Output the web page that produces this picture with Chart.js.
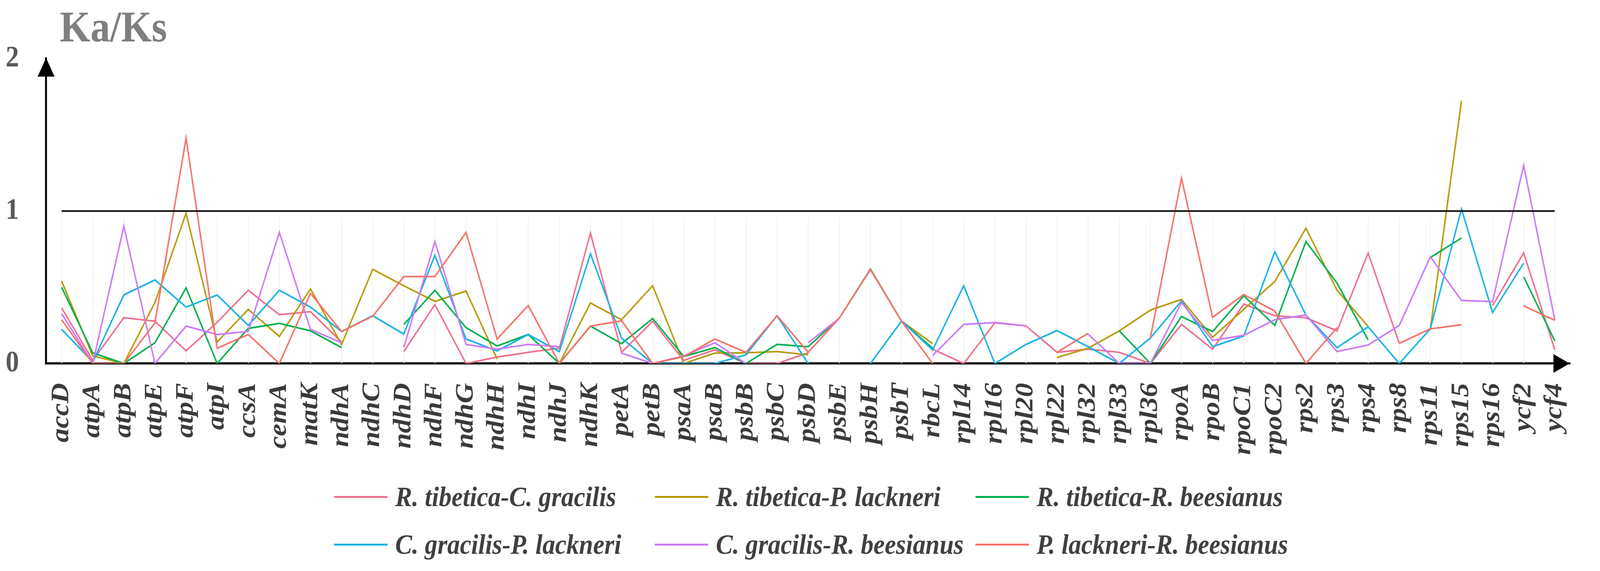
<!DOCTYPE html>
<html>
<head>
<meta charset="utf-8">
<title>Ka/Ks</title>
<script src="https://cdn.jsdelivr.net/npm/chart.js@4.4.1/dist/chart.umd.min.js"></script>
<style>
  html, body { margin: 0; padding: 0; background: #fff; overflow: hidden; }
  #wrap { position: relative; width: 4550px; height: 1461px; transform-origin: 0 0; }
  #kaks { display: block; }
  #title {
    position: absolute; left: 170px; top: 4px; line-height: 1;
    font: bold 112px "Liberation Serif", "Times New Roman", serif; color: #7f7f7f;
  }
  .leg-item { position: absolute; display: flex; align-items: center; height: 90px; }
  .leg-line { width: 152px; height: 5px; margin-right: 22px; }
  .leg-text {
    font: italic bold 72px "Liberation Serif", "Times New Roman", serif;
    color: #404040; white-space: nowrap;
  }
</style>
</head>
<body>
<div id="wrap">
  <canvas id="kaks" width="4550" height="1461"></canvas>
  <div id="title">Ka/Ks</div>
  <div id="legend"></div>
</div>
<script>
// genes on the x axis
const genes = ['accD','atpA','atpB','atpE','atpF','atpI','ccsA','cemA','matK','ndhA',
  'ndhC','ndhD','ndhF','ndhG','ndhH','ndhI','ndhJ','ndhK','petA','petB',
  'psaA','psaB','psbB','psbC','psbD','psbE','psbH','psbT','rbcL','rpl14',
  'rpl16','rpl20','rpl22','rpl32','rpl33','rpl36','rpoA','rpoB','rpoC1','rpoC2',
  'rps2','rps3','rps4','rps8','rps11','rps15','rps16','ycf2','ycf4'];

const pairNames = [
  'R. tibetica-C. gracilis', 'R. tibetica-P. lackneri', 'R. tibetica-R. beesianus',
  'C. gracilis-P. lackneri', 'C. gracilis-R. beesianus', 'P. lackneri-R. beesianus'
];
const pairColors = ['#F0708E', '#B89B0A', '#00B050', '#1AB3E6', '#CB7BF7', '#F4736B'];

// Ka/Ks values per pair (null = no value)
const rtCg = [0.365,0.02,0.30,0.277,0.083,0.27,0.48,0.32,0.34,0.14,
  null,0.078,0.386,0,0.042,0.073,0.10,0.856,0.073,0.277,
  0.02,0.089,0,0,0.07,null,null,null,0.094,0,
  0.266,0.247,0.073,0.094,0.073,0,0.256,0.094,0.39,0.313,
  0.30,0.214,0.725,0.132,null,null,0.38,0.725,0.09];
const rtPl = [0.54,0.05,0,0.40,0.986,0.14,0.355,0.177,0.49,0.125,
  0.618,0.51,0.407,0.475,0.03,null,0,0.397,0.287,0.51,
  0,0.068,0.07,0.078,0.057,null,null,0.278,0.13,null,
  null,null,0.039,0.10,0.214,0.35,0.42,0.172,0.355,0.538,
  0.887,0.48,0.243,null,0.227,1.722,null,null,null];
const rtRb = [0.50,0.07,0,0.136,0.496,0,0.23,0.263,0.214,0.104,
  null,0.256,0.48,0.235,0.115,0.19,0,0.245,0.13,0.295,
  0.046,0.104,0,0.125,0.11,0.297,0.62,0.278,0.10,null,
  null,null,null,null,0.214,0,0.308,0.209,0.444,0.25,
  0.80,0.527,0.155,null,0.695,0.823,null,0.568,0.148];
const cgPl = [0.224,0.01,0.45,0.548,0.37,0.449,0.25,0.48,0.37,0.21,
  0.313,0.193,0.71,0.16,0.083,0.19,0.078,0.72,0.167,0,
  0,0,0.057,0.313,0,null,0,0.278,0.089,0.51,
  0,0.125,0.216,0.11,0,0.167,0.41,0.11,0.18,0.733,
  0.318,0.104,0.24,0,0.227,1.014,0.334,0.658,null];
const cgRb = [0.327,0,0.90,0,0.245,0.19,0.21,0.86,0.224,0.136,
  null,0.104,0.80,0.125,0.094,0.125,0.11,null,0.068,0,
  0.05,0.136,0,null,0.136,0.297,null,null,0.052,0.256,
  0.268,0.247,null,0.193,0,0,0.40,0.151,0.185,0.287,
  0.318,0.078,0.121,0.249,0.70,0.413,0.406,1.30,0.286];
const plRb = [0.287,0,0,0.266,1.48,0.10,0.19,0,0.46,0.21,
  0.31,0.57,0.57,0.86,0.16,0.38,0,0.245,0.28,0,
  0.045,0.16,0.073,0.313,0.073,0.297,0.616,0.277,0,null,
  null,null,0.073,0.198,null,0.167,1.216,0.303,0.452,0.344,
  0,0.235,null,0.132,0.227,0.254,null,0.378,0.283];

const yTicks = [0, 1, 2];
const refLevel = 1;       // neutral-selection line
const guideTop = 0.96;    // faint drop lines stop just under it

const series = [rtCg, rtPl, rtRb, cgPl, cgRb, plRb];

// stretch the fixed 4550x1461 layout onto whatever viewport we get
const PAGE_W = 4550, PAGE_H = 1461;
const sx = window.innerWidth / PAGE_W || 1;
const sy = window.innerHeight / PAGE_H || 1;
if (Math.abs(sx - 1) > 0.001 || Math.abs(sy - 1) > 0.001) {
  document.getElementById('wrap').style.transform = `scale(${sx}, ${sy})`;
}

// faint verticals, the Ka/Ks = 1 line and the axis arrows
const framePlugin = {
  id: 'frame',
  beforeDatasetsDraw(chart) {
    const { ctx, scales: { x, y } } = chart;
    ctx.save();
    ctx.strokeStyle = '#efefe8';
    ctx.lineWidth = 2;
    genes.forEach((g, i) => {
      const px = x.getPixelForValue(i);
      ctx.beginPath();
      ctx.moveTo(px, y.getPixelForValue(0));
      ctx.lineTo(px, y.getPixelForValue(guideTop));
      ctx.stroke();
    });
    ctx.restore();
  },
  afterDatasetsDraw(chart) {
    const { ctx, scales: { x, y } } = chart;
    const py = y.getPixelForValue(refLevel);
    ctx.save();
    ctx.strokeStyle = '#1a1a1a';
    ctx.lineWidth = 4.5;
    ctx.beginPath();
    ctx.moveTo(x.getPixelForValue(0), py);
    ctx.lineTo(x.getPixelForValue(genes.length - 1), py);
    ctx.stroke();
    ctx.restore();
  },
  afterDraw(chart) {
    const { ctx, chartArea: a } = chart;
    ctx.save();
    ctx.fillStyle = '#000';
    // y arrow
    ctx.beginPath();
    ctx.moveTo(a.left, a.top - 2);
    ctx.lineTo(a.left - 24, a.top + 46);
    ctx.lineTo(a.left + 24, a.top + 46);
    ctx.closePath();
    ctx.fill();
    // x arrow
    ctx.beginPath();
    ctx.moveTo(a.right - 2, a.bottom);
    ctx.lineTo(a.right - 48, a.bottom - 24);
    ctx.lineTo(a.right - 48, a.bottom + 24);
    ctx.closePath();
    ctx.fill();
    ctx.restore();
  }
};

const datasets = series.map((data, i) => ({
  label: pairNames[i],
  data,
  borderColor: pairColors[i],
  backgroundColor: pairColors[i],
  borderWidth: 4.2,
  pointRadius: 0,
  tension: 0,
  spanGaps: false,
  order: series.length - i   // later pairs on top, like the original
}));

new Chart(document.getElementById('kaks'), {
  type: 'line',
  data: { labels: genes, datasets },
  options: {
    responsive: false,
    animation: false,
    devicePixelRatio: 1,
    layout: { padding: { top: 150, right: 21, bottom: 0, left: 0 } },
    plugins: {
      legend: { display: false },
      tooltip: { enabled: false },
      title: { display: false }
    },
    scales: {
      x: {
        offset: true,
        grid: { display: false },
        border: { display: true, color: '#000', width: 5.5 },
        ticks: {
          autoSkip: false,
          minRotation: 90,
          maxRotation: 90,
          padding: 42,
          color: '#3a3a3a',
          font: { family: "'Liberation Serif', 'Times New Roman', serif", size: 72, style: 'italic', weight: 'bold' }
        },
        afterFit(scale) { scale.height = 531; }
      },
      y: {
        min: 0,
        max: 2,
        grid: { display: false, drawTicks: false },
        border: { display: true, color: '#000', width: 5.5 },
        afterBuildTicks(scale) { scale.ticks = yTicks.map(v => ({ value: v })); },
        ticks: {
          padding: 77,
          color: '#595959',
          font: { family: "'Liberation Serif', 'Times New Roman', serif", size: 76, weight: 'bold' }
        },
        afterFit(scale) { scale.width = 131; }
      }
    }
  },
  plugins: [framePlugin]
});

// legend: three columns, two rows
const legend = document.getElementById('legend');
const colX = [950, 1862, 2774];
const rowY = [1271, 1393];
pairNames.forEach((name, i) => {
  const item = document.createElement('div');
  item.className = 'leg-item';
  item.style.left = colX[i % 3] + 'px';
  item.style.top = (rowY[Math.floor(i / 3)] - 45) + 'px';
  item.innerHTML = `<span class="leg-line" style="background:${pairColors[i]}"></span>` +
                   `<span class="leg-text">${name}</span>`;
  legend.appendChild(item);
});
</script>
</body>
</html>
